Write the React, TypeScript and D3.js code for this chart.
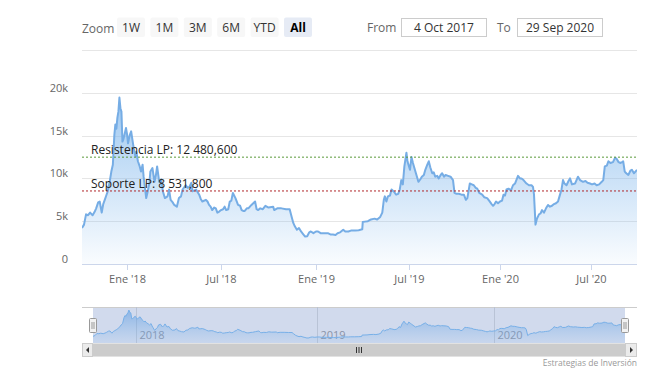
import React from "react";
import * as d3 from "d3";

const dates: string[] = [
"2017-10-04","2017-10-08","2017-10-12","2017-10-16","2017-10-20","2017-10-25","2017-10-29","2017-11-01","2017-11-05","2017-11-08","2017-11-12","2017-11-15","2017-11-18","2017-11-21","2017-11-24","2017-11-28","2017-12-01","2017-12-04","2017-12-07","2017-12-09","2017-12-11","2017-12-13","2017-12-15","2017-12-17","2017-12-19","2017-12-21","2017-12-23","2017-12-25","2017-12-27","2017-12-30",
"2018-01-01","2018-01-03","2018-01-06","2018-01-09","2018-01-12","2018-01-14","2018-01-17","2018-01-19","2018-01-22","2018-01-25","2018-01-28","2018-01-31","2018-02-02","2018-02-04","2018-02-07","2018-02-10","2018-02-13","2018-02-15","2018-02-19","2018-02-23","2018-02-26","2018-02-28","2018-03-04","2018-03-08","2018-03-11","2018-03-15","2018-03-20","2018-03-23","2018-03-26","2018-03-30","2018-04-02","2018-04-07","2018-04-11","2018-04-15","2018-04-18","2018-04-24","2018-04-28","2018-05-01","2018-05-05","2018-05-07","2018-05-11","2018-05-14","2018-05-20","2018-05-23","2018-05-26","2018-06-02","2018-06-05","2018-06-08","2018-06-11","2018-06-14","2018-06-18","2018-06-21","2018-06-24","2018-06-27",
"2018-07-01","2018-07-05","2018-07-08","2018-07-11","2018-07-15","2018-07-18","2018-07-21","2018-07-24","2018-07-29","2018-08-03","2018-08-07","2018-08-10","2018-08-13","2018-08-16","2018-08-20","2018-08-23","2018-08-29","2018-09-05","2018-09-08","2018-09-11","2018-09-15","2018-09-20","2018-09-25","2018-10-01","2018-10-10","2018-10-12","2018-10-18","2018-10-26","2018-11-04","2018-11-11","2018-11-14","2018-11-18","2018-11-21","2018-11-25","2018-11-29","2018-12-03","2018-12-07","2018-12-11","2018-12-15","2018-12-19","2018-12-22","2018-12-27",
"2019-01-01","2019-01-05","2019-01-10","2019-01-15","2019-01-20","2019-01-24","2019-01-29","2019-02-03","2019-02-08","2019-02-12","2019-02-17","2019-02-23","2019-02-27","2019-03-05","2019-03-10","2019-03-18","2019-03-25","2019-04-01","2019-04-02","2019-04-06","2019-04-12","2019-04-18","2019-04-25","2019-04-30","2019-05-06","2019-05-10","2019-05-13","2019-05-15","2019-05-18","2019-05-21","2019-05-25","2019-05-28","2019-06-01","2019-06-06","2019-06-10","2019-06-13","2019-06-16","2019-06-19","2019-06-22","2019-06-26","2019-06-28",
"2019-07-01","2019-07-03","2019-07-06","2019-07-09","2019-07-11","2019-07-15","2019-07-20","2019-07-24","2019-07-27","2019-07-31","2019-08-03","2019-08-07","2019-08-10","2019-08-13","2019-08-17","2019-08-20","2019-08-23","2019-08-27","2019-08-30","2019-09-03","2019-09-06","2019-09-10","2019-09-13","2019-09-18","2019-09-23","2019-09-28","2019-10-01","2019-10-05","2019-10-10","2019-10-15","2019-10-20","2019-10-24","2019-10-27","2019-11-01","2019-11-05","2019-11-09","2019-11-13","2019-11-16","2019-11-20","2019-11-26","2019-11-30","2019-12-06","2019-12-10","2019-12-15","2019-12-18","2019-12-21","2019-12-24","2019-12-28",
"2020-01-01","2020-01-05","2020-01-08","2020-01-11","2020-01-14","2020-01-18","2020-01-23","2020-01-27","2020-01-31","2020-02-06","2020-02-10","2020-02-13","2020-02-17","2020-02-20","2020-02-23","2020-02-28","2020-03-04","2020-03-07","2020-03-09","2020-03-12","2020-03-15","2020-03-19","2020-03-22","2020-03-25","2020-03-29","2020-04-02","2020-04-06","2020-04-10","2020-04-14","2020-04-18","2020-04-22","2020-04-26","2020-04-29","2020-05-03","2020-05-06","2020-05-09","2020-05-13","2020-05-17","2020-05-20","2020-05-24","2020-05-30","2020-06-02","2020-06-05","2020-06-09","2020-06-15","2020-06-20","2020-06-24","2020-06-29",
"2020-07-03","2020-07-08","2020-07-12","2020-07-17","2020-07-22","2020-07-25","2020-07-28","2020-08-01","2020-08-04","2020-08-08","2020-08-13","2020-08-17","2020-08-20","2020-08-24","2020-08-27","2020-08-31","2020-09-02","2020-09-05","2020-09-08","2020-09-12","2020-09-16","2020-09-19","2020-09-23","2020-09-26","2020-09-29"
];

const prices: number[] = [
4200,4600,5800,5700,6000,5700,6100,6500,7200,7300,6000,7000,7500,8000,8500,9700,10800,11600,15100,16300,15800,17100,17800,19450,18200,17800,14300,14600,15100,15900,
15200,14100,15000,15500,14300,13500,12600,13100,12000,11500,10800,11600,10200,9200,7700,8500,9400,10800,11200,9600,10500,11400,9600,9900,8500,7700,7900,8700,7500,7200,6900,6700,7700,7900,8700,9200,8900,9000,9500,8500,8600,8700,8100,7600,7300,7500,7300,6900,6700,6300,6600,6500,6000,6100,
6300,6400,6700,6300,6400,7300,7400,8300,7700,6900,6800,6300,6200,6200,6500,6500,6900,7300,6400,6300,6500,6400,6800,6600,6700,6300,6500,6500,6400,6400,5700,4800,4400,4000,4200,3800,3500,3200,3250,3700,3800,3600,
3800,3800,3600,3600,3600,3600,3450,3450,3400,3600,3700,4000,3800,3800,3900,3900,3950,4050,4900,4950,5000,5200,5300,5200,5500,6000,7500,7900,7300,7900,8000,8700,8500,8100,8200,8700,9800,9300,11400,13000,12000,
11400,11000,12500,11800,11400,10600,9600,9900,10200,10400,11000,11600,12000,11300,10600,10700,10200,10300,10000,10400,10600,10200,10400,10300,10200,9800,8300,8200,8200,8100,8100,7500,7700,9400,9300,9200,8900,8800,8300,8100,7800,7700,7400,7000,6800,7000,7300,7100,
7300,7400,8100,8000,8700,8800,8600,9200,9400,10300,10000,10000,9800,9600,9400,9200,9200,9000,8100,4600,5300,5800,5900,6300,6000,6500,6900,6700,6800,7000,7100,7300,7900,8700,9800,9400,9200,9700,10000,9300,9400,9800,10200,9800,9600,9700,9500,9400,
9300,9400,9200,9300,9600,9800,11400,11500,12000,11800,11900,12400,12300,11900,11800,11900,12000,10800,10600,10400,10900,11000,10600,10800,11000
];

const yTicks: number[] = [0, 5000, 10000, 15000, 20000, 25000];
const yTickLabels: string[] = ["0", "5k", "10k", "15k", "20k", ""];
const xTickDates: string[] = ["2018-01-01", "2018-07-01", "2019-01-01", "2019-07-01", "2020-01-01", "2020-07-01"];
const xTickLabels: string[] = ["Ene '18", "Jul '18", "Ene '19", "Jul '19", "Ene '20", "Jul '20"];
const navTickDates: string[] = ["2018-01-01", "2019-01-01", "2020-01-01"];
const navTickLabels: string[] = ["2018", "2019", "2020"];
const zoomButtons: string[] = ["1W", "1M", "3M", "6M", "YTD", "All"];
const selectedButton = 5;
const fromText = "4 Oct 2017";
const toText = "29 Sep 2020";
const resistance = 12480.6;
const support = 8531.8;
const resistanceLabel = "Resistencia LP: 12 480,600";
const supportLabel = "Soporte LP: 8 531,800";
const credit = "Estrategias de Inversión";

// scale configuration (domain stops / pixel stops)
const scaleStops: string[] = ["2017-10-04", "2018-01-01", "2018-07-01", "2019-01-01", "2019-07-01", "2020-01-01", "2020-07-01", "2020-09-29"];
const mainRange: number[] = [82, 127, 221, 316, 409, 500, 591, 637];

const FONT = "'Open Sans', 'DejaVu Sans', sans-serif";
const parse = d3.utcParse("%Y-%m-%d");

export default function App() {
  const data = dates.map((d, i) => ({ date: parse(d) as Date, value: prices[i] }));
  const plotLeft = 82, plotRight = 637, plotTop = 50, plotBottom = 264;
  const navLeft = 93, navRight = 625, navTop = 307, navBottom = 343;

  const x = d3.scaleUtc().domain(scaleStops.map((s) => parse(s) as Date)).range(mainRange);
  const navRange = mainRange.map((r) => navLeft + ((r - plotLeft) * (navRight - navLeft)) / (plotRight - plotLeft));
  const xNav = d3.scaleUtc().domain(scaleStops.map((s) => parse(s) as Date)).range(navRange);
  const y = d3.scaleLinear().domain([0, 25000]).range([plotBottom, plotTop]);
  const yNav = d3.scaleLinear().domain([0, 19500]).range([navBottom + 0.5, 310]);

  const area = d3.area<any>().x((d) => x(d.date)).y0(y(0)).y1((d) => y(d.value));
  const line = d3.line<any>().x((d) => x(d.date)).y((d) => y(d.value));
  const navArea = d3.area<any>().x((d) => xNav(d.date)).y0(navBottom).y1((d) => yNav(d.value));
  const navLine = d3.line<any>().x((d) => xNav(d.date)).y((d) => yNav(d.value));

  const btnX0 = 117, btnStep = 33.4, btnW = 28;

  return (
    <svg width={650} height={377} style={{ position: "absolute", left: 0, top: 0, background: "#fff" }} fontFamily={FONT}>
      <defs>
        <linearGradient id="areaGrad" x1="0" y1={y(20000)} x2="0" y2={plotBottom} gradientUnits="userSpaceOnUse">
          <stop offset="0" stopColor="#7cb5ec" stopOpacity={0.75} />
          <stop offset="1" stopColor="#7cb5ec" stopOpacity={0.04} />
        </linearGradient>
        <linearGradient id="navGrad" x1="0" y1={310} x2="0" y2={navBottom} gradientUnits="userSpaceOnUse">
          <stop offset="0" stopColor="#5d9be0" stopOpacity={0.6} />
          <stop offset="1" stopColor="#7cb5ec" stopOpacity={0.1} />
        </linearGradient>
        <clipPath id="plotClip">
          <rect x={plotLeft} y={plotTop - 5} width={plotRight - plotLeft} height={plotBottom - plotTop + 5} />
        </clipPath>
      </defs>

      {/* range selector */}
      <text x={82} y={32.5} fontSize={12} fill="#666">Zoom</text>
      {zoomButtons.map((b, i) => (
        <g key={b}>
          <rect x={btnX0 + i * btnStep} y={17.5} width={btnW} height={19.5} rx={2} fill={i === selectedButton ? "#e6ebf5" : "#f7f7f7"} />
          <text x={btnX0 + i * btnStep + btnW / 2} y={31.5} fontSize={12} textAnchor="middle" fill={i === selectedButton ? "#000" : "#333"} fontWeight={i === selectedButton ? "bold" : "normal"}>{b}</text>
        </g>
      ))}
      <text x={367} y={32} fontSize={12} fill="#666">From</text>
      <rect x={401.5} y={18.5} width={85} height={18} fill="#fff" stroke="#cccccc" />
      <text x={444} y={32} fontSize={12} textAnchor="middle" fill="#333">{fromText}</text>
      <text x={497} y={32} fontSize={12} fill="#666">To</text>
      <rect x={517.5} y={18.5} width={85} height={18} fill="#fff" stroke="#cccccc" />
      <text x={560} y={32} fontSize={12} textAnchor="middle" fill="#333">{toText}</text>

      {/* grid */}
      {yTicks.map((t) => (
        <line key={t} x1={plotLeft} x2={plotRight} y1={Math.round(y(t)) + 0.5} y2={Math.round(y(t)) + 0.5} stroke={t === 0 ? "#ccd6eb" : "#e6e6e6"} />
      ))}
      {yTicks.map((t, i) => (
        <text key={"yl" + t} x={68} y={y(t) - 1} fontSize={11} textAnchor="end" fill="#666">{yTickLabels[i]}</text>
      ))}

      {/* series */}
      <g clipPath="url(#plotClip)">
        <path d={area(data) || ""} fill="url(#areaGrad)" />
        <path d={line(data) || ""} fill="none" stroke="#76ade5" strokeWidth={2} strokeLinejoin="round" />
      </g>

      {/* levels */}
      <line x1={plotLeft} x2={plotRight} y1={y(resistance)} y2={y(resistance)} stroke="#5a9a3a" strokeWidth={1} strokeDasharray="2,2" />
      <text x={91} y={y(resistance) - 3} fontSize={12} fill="#222">{resistanceLabel}</text>
      <line x1={plotLeft} x2={plotRight} y1={y(support)} y2={y(support)} stroke="#b0262a" strokeWidth={1} strokeDasharray="2,2" />
      <text x={91} y={y(support) - 3} fontSize={12} fill="#222">{supportLabel}</text>

      {/* x axis */}
      {xTickDates.map((d, i) => {
        const xx = Math.round(x(parse(d) as Date)) + 0.5;
        return (
          <g key={d}>
            <line x1={xx} x2={xx} y1={plotBottom} y2={plotBottom + 6} stroke="#ccd6eb" />
            <text x={xx} y={283} fontSize={11} textAnchor="middle" fill="#666">{xTickLabels[i]}</text>
          </g>
        );
      })}

      {/* navigator */}
      <line x1={plotLeft} x2={plotRight} y1={navTop + 0.5} y2={navTop + 0.5} stroke="#cccccc" />
      <rect x={navLeft} y={navTop + 1} width={navRight - navLeft} height={navBottom - navTop - 1} fill="rgba(102,133,194,0.3)" />
      {navTickDates.map((d, i) => {
        const xx = Math.round(xNav(parse(d) as Date)) + 0.5;
        return (
          <g key={d}>
            <line x1={xx} x2={xx} y1={navTop} y2={navBottom} stroke="#b9c3d6" />
            <text x={xx + 3} y={339} fontSize={11} fill="#8a93a8">{navTickLabels[i]}</text>
          </g>
        );
      })}
      <path d={navArea(data) || ""} fill="url(#navGrad)" />
      <path d={navLine(data) || ""} fill="none" stroke="#78b0e8" strokeWidth={1} />
      {[navLeft, navRight].map((hx) => (
        <g key={hx}>
          <rect x={hx - 3.5} y={318.5} width={7} height={14} rx={1} fill="#f2f2f2" stroke="#999" />
          <line x1={hx - 1} x2={hx - 1} y1={322} y2={329} stroke="#999" />
          <line x1={hx + 1} x2={hx + 1} y1={322} y2={329} stroke="#999" />
        </g>
      ))}

      {/* scrollbar */}
      <rect x={plotLeft} y={343.5} width={plotRight - plotLeft} height={13} fill="#f2f2f2" />
      <rect x={navLeft} y={343.5} width={navRight - navLeft} height={13} fill="#cccccc" />
      <rect x={plotLeft + 0.5} y={343.5} width={10} height={13} fill="#ebebeb" stroke="#cccccc" />
      <path d={`M${plotLeft + 7},${347} L${plotLeft + 7},${353} L${plotLeft + 4},${350} Z`} fill="#333" />
      <rect x={plotRight - 11.5} y={343.5} width={11} height={13} fill="#ebebeb" stroke="#cccccc" />
      <path d={`M${plotRight - 7},${347} L${plotRight - 7},${353} L${plotRight - 4},${350} Z`} fill="#333" />
      {[-2.5, 0, 2.5].map((o) => {
        const cx = (navLeft + navRight) / 2 + o;
        return <line key={o} x1={cx} x2={cx} y1={347} y2={353} stroke="#333" />;
      })}

      <text x={637} y={366} fontSize={8.5} textAnchor="end" fill="#999">{credit}</text>
    </svg>
  );
}
